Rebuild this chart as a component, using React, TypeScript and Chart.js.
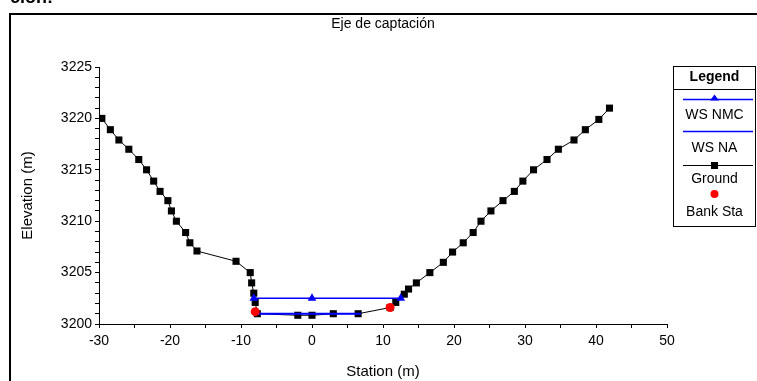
import React, { useEffect, useRef } from "react";
import { Chart, registerables } from "chart.js";

Chart.register(...registerables);

const chartTitle = "Eje de captación";
const headerFragment = "ción:";
const xAxisTitle = "Station (m)";
const yAxisTitle = "Elevation (m)";
const legendTitle = "Legend";

const groundStation = [
  -29.6, -28.4, -27.2, -25.8, -24.4, -23.3, -22.3, -21.4, -20.3, -19.8, -19.1, -17.8, -17.2, -16.2,
  -10.7, -8.7, -8.5, -8.2, -8.0, -7.7, -2.0, 0.0, 3.0, 6.5, 11.0, 11.8, 13.0, 13.6, 14.7, 16.6,
  18.5, 19.8, 21.3, 22.7, 23.8, 25.2, 26.9, 28.5, 29.7, 31.2, 33.1, 34.7, 36.9, 38.5, 40.4, 41.9,
];
const groundElevation = [
  3220.0, 3218.9, 3217.9, 3217.0, 3216.0, 3215.0, 3213.9, 3212.9, 3212.0, 3211.0, 3210.0, 3208.9, 3207.9, 3207.1,
  3206.1, 3205.0, 3204.0, 3203.0, 3202.1, 3201.0, 3200.85, 3200.85, 3201.0, 3201.0, 3201.6, 3202.1, 3202.9, 3203.4, 3204.0, 3205.0,
  3206.0, 3207.0, 3207.9, 3208.9, 3210.0, 3211.0, 3212.0, 3212.9, 3213.9, 3215.0, 3216.0, 3217.0, 3217.9, 3218.9, 3219.9, 3221.0,
];

const wsNmcStation = [-8.2, 0.0, 12.5];
const wsNmcElevation = [3202.5, 3202.5, 3202.5];

const wsNaStation = [-7.8, 6.9];
const wsNaElevation = [3201.0, 3201.0];

const bankStation = [-8.0, 11.0];
const bankElevation = [3201.2, 3201.6];

const xTickLabels = [-30, -20, -10, 0, 10, 20, 30, 40, 50];
const yTickLabels = [3200, 3205, 3210, 3215, 3220, 3225];

const legendLabels = ["WS NMC", "WS NA", "Ground", "Bank Sta"];

const FONT = "'Liberation Sans', Arial, sans-serif";
const BLUE = "#0000ff";
const RED = "#ff0000";

function zip(xs: number[], ys: number[]) {
  return xs.map((x, i) => ({ x, y: ys[i] }));
}

const decorPlugin = {
  id: "decor",
  afterDraw(chart: any) {
    const ctx = chart.ctx as CanvasRenderingContext2D;
    const area = chart.chartArea;
    ctx.save();
    // outer frame
    ctx.strokeStyle = "#000";
    ctx.lineWidth = 2;
    ctx.strokeRect(10, 14, 800, 420);

    // cropped header text
    ctx.fillStyle = "#000";
    ctx.font = `bold 18px ${FONT}`;
    ctx.textAlign = "left";
    ctx.textBaseline = "alphabetic";
    ctx.fillText(headerFragment, 10, 3);

    // title
    ctx.font = `14px ${FONT}`;
    ctx.textAlign = "center";
    ctx.textBaseline = "middle";
    ctx.fillText(chartTitle, (area.left + area.right) / 2, 24);

    // axis titles
    ctx.font = `15px ${FONT}`;
    ctx.fillText(xAxisTitle, (area.left + area.right) / 2, 372);
    ctx.save();
    ctx.translate(28, (area.top + area.bottom) / 2);
    ctx.rotate(-Math.PI / 2);
    ctx.fillText(yAxisTitle, 0, 0);
    ctx.restore();

    // legend box
    const L = 673.5, R = 755.5, T = 66.5, B = 226.5;
    const cx = (L + R) / 2;
    ctx.lineWidth = 1;
    ctx.strokeStyle = "#000";
    ctx.strokeRect(L, T, R - L, B - T);
    ctx.beginPath();
    ctx.moveTo(L, 89.5);
    ctx.lineTo(R, 89.5);
    ctx.stroke();

    ctx.font = `bold 14px ${FONT}`;
    ctx.fillText(legendTitle, cx, 77);

    ctx.font = `14px ${FONT}`;
    // WS NMC
    ctx.strokeStyle = BLUE;
    ctx.lineWidth = 1.5;
    ctx.beginPath();
    ctx.moveTo(683, 99.5);
    ctx.lineTo(753, 99.5);
    ctx.stroke();
    ctx.fillStyle = BLUE;
    ctx.beginPath();
    ctx.moveTo(cx, 94.5);
    ctx.lineTo(cx + 4.5, 100.5);
    ctx.lineTo(cx - 4.5, 100.5);
    ctx.closePath();
    ctx.fill();
    ctx.fillStyle = "#000";
    ctx.fillText(legendLabels[0], cx, 115);

    // WS NA
    ctx.strokeStyle = BLUE;
    ctx.beginPath();
    ctx.moveTo(683, 131.5);
    ctx.lineTo(753, 131.5);
    ctx.stroke();
    ctx.fillText(legendLabels[1], cx, 148);

    // Ground
    ctx.strokeStyle = "#000";
    ctx.lineWidth = 1;
    ctx.beginPath();
    ctx.moveTo(683, 165.5);
    ctx.lineTo(753, 165.5);
    ctx.stroke();
    ctx.fillRect(cx - 3.5, 162, 7, 7);
    ctx.fillText(legendLabels[2], cx, 179);

    // Bank Sta
    ctx.fillStyle = RED;
    ctx.beginPath();
    ctx.arc(cx, 194, 4, 0, Math.PI * 2);
    ctx.fill();
    ctx.fillStyle = "#000";
    ctx.fillText(legendLabels[3], cx, 212);

    ctx.restore();
  },
};

export default function App() {
  const ref = useRef<HTMLCanvasElement>(null);

  useEffect(() => {
    if (!ref.current) return;
    const chart = new Chart(ref.current, {
      type: "scatter",
      data: {
        datasets: [
          {
            label: legendLabels[3],
            data: zip(bankStation, bankElevation),
            showLine: false,
            pointStyle: "circle",
            pointRadius: 4.5,
            backgroundColor: RED,
            borderColor: RED,
            borderWidth: 0,
            order: 0,
          },
          {
            label: legendLabels[0],
            data: zip(wsNmcStation, wsNmcElevation),
            showLine: true,
            borderColor: BLUE,
            borderWidth: 1.5,
            pointStyle: "triangle",
            pointRadius: 5,
            backgroundColor: BLUE,
            pointBorderWidth: 0,
            order: 1,
          },
          {
            label: legendLabels[1],
            data: zip(wsNaStation, wsNaElevation),
            showLine: true,
            borderColor: BLUE,
            borderWidth: 2,
            pointRadius: 0,
            order: 2,
          },
          {
            label: legendLabels[2],
            data: zip(groundStation, groundElevation),
            showLine: true,
            borderColor: "#000",
            borderWidth: 1,
            pointStyle: "rect",
            pointRadius: 5,
            backgroundColor: "#000",
            pointBorderWidth: 0,
            order: 3,
          },
        ],
      },
      options: {
        responsive: false,
        animation: false,
        devicePixelRatio: 1,
        layout: { padding: { left: 0, right: 90, top: 67, bottom: 0 } },
        plugins: {
          legend: { display: false },
          title: { display: false },
          tooltip: { enabled: false },
        },
        scales: {
          x: {
            type: "linear",
            min: xTickLabels[0],
            max: xTickLabels[xTickLabels.length - 1],
            afterFit: (s: any) => {
              s.height = 57;
            },
            afterBuildTicks: (s: any) => {
              const t = [];
              for (let v = s.min; v <= s.max; v += 5) t.push({ value: v });
              s.ticks = t;
            },
            ticks: {
              autoSkip: false,
              maxRotation: 0,
              padding: 5,
              color: "#000",
              font: { family: FONT, size: 14 },
              callback: (v: any) => (xTickLabels.includes(Number(v)) ? String(v) : ""),
            },
            grid: { drawOnChartArea: false, drawTicks: true, tickLength: 4, color: "#000", lineWidth: 1 },
            border: { display: true, color: "#000", width: 1 },
          },
          y: {
            type: "linear",
            min: yTickLabels[0],
            max: yTickLabels[yTickLabels.length - 1],
            afterFit: (s: any) => {
              s.width = 99;
            },
            afterBuildTicks: (s: any) => {
              const t = [];
              for (let v = s.min; v <= s.max; v += 1) t.push({ value: v });
              s.ticks = t;
            },
            ticks: {
              autoSkip: false,
              padding: 3,
              color: "#000",
              font: { family: FONT, size: 14 },
              callback: (v: any) => (yTickLabels.includes(Number(v)) ? String(v) : ""),
            },
            grid: { drawOnChartArea: false, drawTicks: true, tickLength: 4, color: "#000", lineWidth: 1 },
            border: { display: true, color: "#000", width: 1 },
          },
        },
      },
      plugins: [decorPlugin],
    });
    return () => chart.destroy();
  }, []);

  return (
    <div style={{ position: "fixed", left: 0, top: 0, width: 757, height: 381, background: "#fff" }}>
      <canvas ref={ref} width={757} height={381} style={{ display: "block" }} />
    </div>
  );
}
